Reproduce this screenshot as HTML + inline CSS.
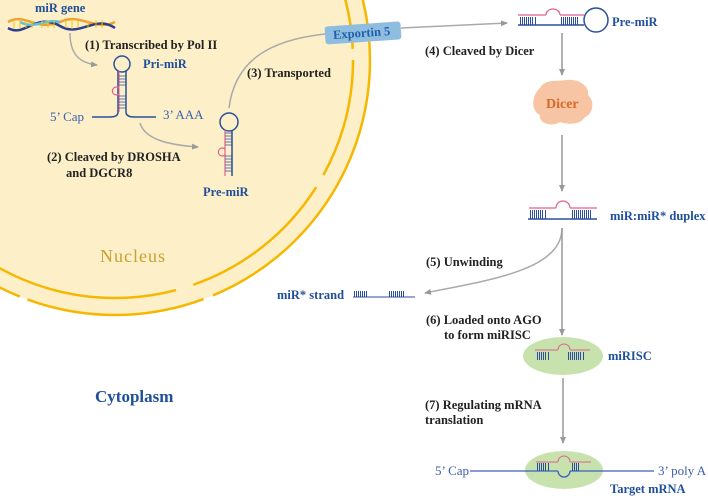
<!DOCTYPE html>
<html><head><meta charset="utf-8"><style>
html,body{margin:0;padding:0;background:#fff}
svg{display:block}
text{font-family:"Liberation Serif",serif;font-weight:bold;font-size:12.5px}
.b{fill:#1f4e9a}.k{fill:#222}
.bars{stroke:#2b4f9a;stroke-width:1;shape-rendering:crispEdges}
</style></head><body>
<svg width="708" height="502" viewBox="0 0 708 502" xmlns="http://www.w3.org/2000/svg">
<defs>
<marker id="ar" markerWidth="8" markerHeight="8" refX="6" refY="4" orient="auto" markerUnits="userSpaceOnUse"><path d="M0,1 L7,4 L0,7 Z" fill="#999"/></marker>
</defs>
<!-- nucleus -->
<circle cx="115" cy="60" r="255" fill="#fdf0c9"/>
<circle cx="115" cy="60" r="255" fill="none" stroke="#f6b700" stroke-width="2.5" stroke-dasharray="300 10 180 8 400 10"/>
<circle cx="115" cy="60" r="238" fill="none" stroke="#f6b700" stroke-width="2.5" stroke-dasharray="120 14 160 18 200 14 140 16"/>
<text x="100" y="262" style="font-size:18px;font-weight:normal;fill:#c9a032;letter-spacing:1px">Nucleus</text>
<text x="95" y="402" class="b" style="font-size:17px">Cytoplasm</text>
<!-- DNA -->
<g stroke-width="2.5" fill="none">
<path d="M8,22 C25,12 35,32 60,22 C80,12 95,32 115,22" stroke="#f0a030"/>
<path d="M8,28 C25,38 35,12 60,26 C80,38 95,14 115,28" stroke="#2b3f8f"/>
<path d="M20,22 C35,30 45,18 60,22" stroke="#5bc0e8"/>
</g>
<g stroke="#f3c400" stroke-width="1">
<path d="M14,20v8M20,19v10M26,20v8M32,21v7M42,21v7M48,20v8M54,20v8M66,20v8M72,19v10M78,20v8M88,21v7M96,20v8M102,20v8"/>
</g>
<text x="35" y="12" class="b">miR gene</text>
<path d="M70,33 C70,55 80,63 97,65" fill="none" stroke="#aaa" stroke-width="1.5" marker-end="url(#ar)"/>
<text x="85" y="49" class="k">(1) Transcribed by Pol II</text>
<!-- Pri-miR -->
<circle cx="122" cy="64" r="8" fill="none" stroke="#2b4f9a" stroke-width="1.5"/>
<path d="M118,71 V112 Q118,117 110,117 H92 M126,71 V112 Q126,117 134,117 H156" fill="none" stroke="#2b4f9a" stroke-width="1.5"/>
<path d="M119,71 V112" stroke="#e06090" stroke-width="1"/>
<g stroke="#2b4f9a" stroke-width="0.8"><path d="M119,76h7M119,79h7M119,82h7M119,85h7M119,96h7M119,99h7M119,102h7M119,105h7M119,108h7"/></g>
<path d="M119,88 a4,4 0 1 0 0,6" fill="none" stroke="#e06090" stroke-width="1.2"/>
<text x="143" y="68" class="b">Pri-miR</text>
<text x="50" y="121" style="font-weight:normal;font-size:13px;fill:#3a5fae">5’ Cap</text>
<text x="163" y="119" style="font-weight:normal;font-size:13px;fill:#3a5fae">3’ AAA</text>
<path d="M140,123 C145,140 170,145 198,147" fill="none" stroke="#aaa" stroke-width="1.5" marker-end="url(#ar)"/>
<text x="47" y="161" class="k">(2) Cleaved by DROSHA</text>
<text x="66" y="177" class="k">and DGCR8</text>
<!-- Pre-miR in nucleus -->
<circle cx="229" cy="122" r="9" fill="none" stroke="#2b4f9a" stroke-width="1.5"/>
<path d="M225,130 V176" stroke="#e06090" stroke-width="1.2"/>
<path d="M232,130 V176" stroke="#2b4f9a" stroke-width="1.5"/>
<g stroke="#2b4f9a" stroke-width="0.8"><path d="M225,133h7M225,136h7M225,139h7M225,142h7M225,145h7M225,156h7M225,159h7M225,162h7M225,165h7M225,168h7M225,171h7"/></g>
<path d="M225,149 a4,4 0 1 0 0,6" fill="none" stroke="#e06090" stroke-width="1.2"/>
<text x="203" y="196" class="b">Pre-miR</text>
<path d="M229,108 C235,60 270,40 325,34" fill="none" stroke="#aaa" stroke-width="1.5"/>
<text x="247" y="77" class="k">(3) Transported</text>
<!-- Exportin -->
<g transform="rotate(-4 362 33)"><rect x="325" y="24" width="76" height="18" rx="3" fill="#8fbde0"/>
<text x="333" y="37" style="fill:#1f5fa8">Exportin 5</text></g>
<path d="M401,28 L507,23" fill="none" stroke="#aaa" stroke-width="1.5" marker-end="url(#ar)"/>
<!-- Pre-miR right -->
<path d="M518,15 H546 M560,15 H584" stroke="#e06090" stroke-width="1.2"/>
<path d="M546,15 a7,6 0 0 1 14,0" fill="none" stroke="#e06090" stroke-width="1.2"/>
<path d="M518,25 H584" stroke="#2b4f9a" stroke-width="1.5"/>
<path class="bars" d="M520.5,17v8M522.5,17v8M524.5,17v8M526.5,17v8M528.5,17v8M530.5,17v8M532.5,17v8M535.5,17v8M561.5,17v8M563.5,17v8M565.5,17v8M567.5,17v8M569.5,17v8M571.5,17v8M573.5,17v8M575.5,17v8M577.5,17v8"/>
<circle cx="596" cy="20" r="12" fill="none" stroke="#2b4f9a" stroke-width="1.5"/>
<text x="612" y="26" class="b">Pre-miR</text>
<text x="425" y="55" class="k">(4) Cleaved by Dicer</text>
<path d="M562,33 V75" stroke="#999" stroke-width="1.5" marker-end="url(#ar)"/>
<path d="M540,88 C545,78 560,82 566,80 C578,78 590,86 588,95 C596,102 592,115 585,117 C580,126 565,124 560,122 C550,128 538,122 540,115 C530,110 532,95 540,88 Z" fill="#f7c4a4"/>
<text x="546" y="108" style="font-size:14px;fill:#d76a28">Dicer</text>
<path d="M562,135 V191" stroke="#999" stroke-width="1.5" marker-end="url(#ar)"/>
<!-- duplex -->
<path d="M529,208 H556 M570,208 H597" stroke="#e06090" stroke-width="1.2"/>
<path d="M556,208 a7,7 0 0 1 14,0" fill="none" stroke="#e06090" stroke-width="1.2"/>
<path d="M528,219 H597" stroke="#2b4f9a" stroke-width="1.5"/>
<path class="bars" d="M530.5,210v9M532.5,210v9M534.5,210v9M536.5,210v9M538.5,210v9M540.5,210v9M542.5,210v9M545.5,210v9M572.5,210v9M574.5,210v9M576.5,210v9M578.5,210v9M580.5,210v9M582.5,210v9M584.5,210v9M586.5,210v9M588.5,210v9M590.5,210v9"/>
<text x="610" y="220" class="b">miR:miR* duplex</text>
<path d="M562,228 C562,270 490,280 425,293" fill="none" stroke="#aaa" stroke-width="1.5" marker-end="url(#ar)"/>
<path d="M562,228 V335" stroke="#999" stroke-width="1.5" marker-end="url(#ar)"/>
<text x="426" y="266" class="k">(5) Unwinding</text>
<text x="277" y="299" class="b">miR* strand</text>
<path d="M353,297 H415" stroke="#2b4f9a" stroke-width="1"/>
<path class="bars" d="M354.5,291v6M356.5,291v6M358.5,291v6M360.5,291v6M362.5,291v6M364.5,291v6M366.5,291v6M389.5,291v6M391.5,291v6M393.5,291v6M395.5,291v6M397.5,291v6M399.5,291v6M401.5,291v6M403.5,291v6"/>
<text x="426" y="324" class="k">(6) Loaded onto AGO</text>
<text x="444" y="339" class="k">to form miRISC</text>
<!-- miRISC -->
<ellipse cx="563" cy="356" rx="40" ry="19" fill="#c8e2ae"/>
<path d="M535,350 H558 M570,350 H590" stroke="#e06090" stroke-width="1"/>
<path d="M558,350 a6,6 0 0 1 12,0" fill="none" stroke="#e06090" stroke-width="1"/>
<path class="bars" d="M537.5,352v8M539.5,352v8M541.5,352v8M543.5,352v8M545.5,352v8M548.5,352v8M568.5,352v8M570.5,352v8M572.5,352v8M574.5,352v8M576.5,352v8M578.5,352v8M580.5,352v8M583.5,352v8"/>
<text x="608" y="360" class="b">miRISC</text>
<path d="M563,378 V443" stroke="#999" stroke-width="1.5" marker-end="url(#ar)"/>
<text x="425" y="409" class="k">(7) Regulating mRNA</text>
<text x="425" y="424" class="k">translation</text>
<!-- target -->
<ellipse cx="564" cy="470" rx="39" ry="19" fill="#c8e2ae"/>
<path d="M470,471 H558 M570,471 H654" stroke="#3a5fbe" stroke-width="1.3"/>
<path d="M558,471 a6,6 0 0 0 12,0" fill="none" stroke="#3a5fbe" stroke-width="1.3"/>
<path d="M536,462 H558 M570,462 H591" stroke="#e06090" stroke-width="1"/>
<path d="M558,462 a6,6 0 0 1 12,0" fill="none" stroke="#e06090" stroke-width="1"/>
<path class="bars" d="M537.5,463v8M539.5,463v8M541.5,463v8M543.5,463v8M545.5,463v8M548.5,463v8M572.5,463v8M574.5,463v8M576.5,463v8M578.5,463v8"/>
<text x="435" y="475" style="font-weight:normal;font-size:13px;fill:#3a5fae">5’ Cap</text>
<text x="658" y="475" style="font-weight:normal;font-size:13px;fill:#3a5fae">3’ poly A</text>
<text x="610" y="493" class="b">Target mRNA</text>
</svg>
</body></html>
